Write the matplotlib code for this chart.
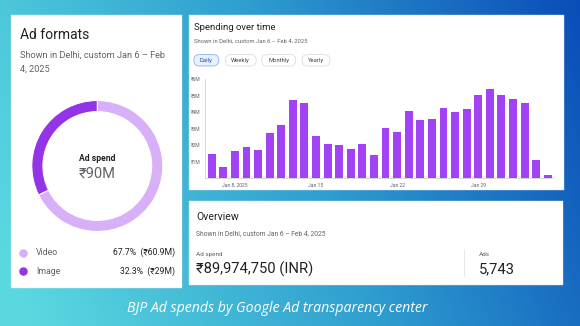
import numpy as np
import matplotlib.pyplot as plt
from matplotlib.patches import Rectangle, FancyBboxPatch
from matplotlib.colors import LinearSegmentedColormap

# daily spend, Jan 6 - Feb 4 2025, in millions of rupees
days = ['Jan 6', 'Jan 7', 'Jan 8', 'Jan 9', 'Jan 10', 'Jan 11', 'Jan 12', 'Jan 13',
        'Jan 14', 'Jan 15', 'Jan 16', 'Jan 17', 'Jan 18', 'Jan 19', 'Jan 20', 'Jan 21',
        'Jan 22', 'Jan 23', 'Jan 24', 'Jan 25', 'Jan 26', 'Jan 27', 'Jan 28', 'Jan 29',
        'Jan 30', 'Jan 31', 'Feb 1', 'Feb 2', 'Feb 3', 'Feb 4']
spend = [1.44, 0.68, 1.67, 1.91, 1.73, 2.76, 3.20, 4.72, 4.58, 2.58,
         2.05, 1.99, 1.77, 2.09, 1.38, 3.06, 2.80, 4.07, 3.53, 3.61,
         4.25, 4.03, 4.21, 5.06, 5.40, 5.02, 4.80, 4.56, 1.12, 0.21]
tick_days = ['Jan 8', 'Jan 15', 'Jan 22', 'Jan 29']
tick_labels = ['Jan 8, 2025', 'Jan 15', 'Jan 22', 'Jan 29']
y_ticks = [1, 2, 3, 4, 5, 6]

formats = ['Video', 'Image']
format_share = [67.7, 32.3]
format_amount = ['₹60.9M', '₹29M']
format_colors = ['#d7b0f8', '#9334e6']

buttons = ['Daily', 'Weekly', 'Monthly', 'Yearly']
subtitle = 'Shown in Delhi, custom Jan 6 – Feb 4, 2025'
total_spend = '₹89,974,750 (INR)'
total_ads = '5,743'

W, H = 580, 326
ui = ['Roboto', 'DejaVu Sans']
dark = '#202124'
grey = '#5f6368'

fig = plt.figure(figsize=(W / 100, H / 100), dpi=100)

# background + cards drawn in pixel coordinates
bg = fig.add_axes([0, 0, 1, 1])
bg.set_xlim(0, W)
bg.set_ylim(H, 0)
bg.axis('off')
xx, yy = np.meshgrid(np.linspace(0, 1, 300), np.linspace(0, 1, 170))
t = np.clip(xx * 0.85 + (1 - yy) * 0.2 - 0.05, 0, 1)
cmap = LinearSegmentedColormap.from_list('bgc', ['#5ad8e0', '#2f9fd0', '#0a4db8'])
bg.imshow(t, cmap=cmap, extent=[0, W, H, 0], aspect='auto', zorder=0)

for (x0, y0, x1, y1) in [(11, 15, 182, 288), (189, 15, 564, 190), (189, 201, 563, 285)]:
    bg.add_patch(Rectangle((x0, y0), x1 - x0, y1 - y0, facecolor='white',
                           edgecolor='#e6e6e6', lw=0.3, zorder=1))

# left card: ad formats
bg.text(20, 35, 'Ad formats', fontsize=10, color=dark, family=ui, va='center', zorder=2)
bg.text(20, 55, 'Shown in Delhi, custom Jan 6 – Feb', fontsize=6.6, color=grey,
        family=ui, va='center', zorder=2)
bg.text(20, 69, '4, 2025', fontsize=6.6, color=grey, family=ui, va='center', zorder=2)

for i, name in enumerate(formats):
    yc = 252.7 + i * 18.6
    bg.scatter([22.5], [yc], s=26, color=format_colors[i], zorder=2)
    bg.text(36, yc, name, fontsize=6.3, color=grey, family=ui, va='center', zorder=2)
    bg.text(175, yc, f'{format_share[i]}%  ({format_amount[i]})', fontsize=6.2,
            color=dark, family=ui, va='center', ha='right', zorder=2)

cx, cy, r = 97.3, 166, 65.5
dax = fig.add_axes([(cx - r) / W, 1 - (cy + r) / H, 2 * r / W, 2 * r / H])
dax.pie(format_share, colors=format_colors, startangle=90, counterclock=False,
        wedgeprops=dict(width=0.17, edgecolor='white', linewidth=0.8))
dax.set_xlim(-1, 1)
dax.set_ylim(-1, 1)
dax.text(0, 0.11, 'Ad spend', fontsize=6.2, color=dark, family=ui, weight='bold',
         ha='center', va='center')
dax.text(0, -0.12, '₹90M', fontsize=10.5, color=grey, family=ui, ha='center', va='center')

# spending over time card
bg.text(194, 27.5, 'Spending over time', fontsize=6.8, color=dark, family=ui,
        va='center', zorder=2)
bg.text(194, 41, subtitle, fontsize=4.2, color=grey, family=ui, va='center', zorder=2)
pill_x = [206.3, 240.7, 278.7, 316]
pill_w = [25, 31, 34, 28]
for i, b in enumerate(buttons):
    sel = i == 0
    bg.add_patch(FancyBboxPatch((pill_x[i] - pill_w[i] / 2, 54.5), pill_w[i], 11.5,
                                boxstyle='round,pad=0,rounding_size=5.7',
                                facecolor='#e8f0fe' if sel else 'white',
                                edgecolor='#8ab4f8' if sel else '#dadce0', lw=0.6, zorder=2))
    bg.text(pill_x[i], 60.3, b, fontsize=4.2, color='#174ea6' if sel else '#3c4043',
            family=ui, ha='center', va='center', zorder=3)

ax = fig.add_axes([205.3 / W, 1 - 178.2 / H, (553 - 205.3) / W, (178.2 - 79.3) / H])
x = np.arange(len(days))
ax.bar(x, spend, width=0.68, color='#a142f4')
ax.set_xlim(-0.55, 29.45)
ax.set_ylim(0, 6)
ax.set_yticks(y_ticks)
ax.set_yticklabels([f'₹{v}M' for v in y_ticks], family=ui)
ax.set_xticks([days.index(d) for d in tick_days])
ax.set_xticklabels(tick_labels, family=ui)
ax.tick_params(length=0, labelsize=3.6, colors=grey, pad=3.5)
for s in ['top', 'right']:
    ax.spines[s].set_visible(False)
for s in ['left', 'bottom']:
    ax.spines[s].set_color('#c8c8c8')
    ax.spines[s].set_linewidth(0.5)
ax.set_facecolor('none')

# overview card
bg.text(196.3, 216.7, 'Overview', fontsize=7.6, color=dark, family=ui, va='center', zorder=2)
bg.text(196.3, 233.3, subtitle, fontsize=4.9, color=grey, family=ui, va='center', zorder=2)
bg.text(196.3, 254.3, 'Ad spend', fontsize=4.6, color=grey, family=ui, va='center', zorder=2)
bg.text(196.3, 269, total_spend, fontsize=10.6, color=dark, family=ui, va='center', zorder=2)
bg.plot([464, 464], [249, 276], color='#e3e3e3', lw=0.6, zorder=2)
bg.text(479, 254.3, 'Ads', fontsize=4.6, color=grey, family=ui, va='center', zorder=2)
bg.text(479, 269, total_ads, fontsize=10.6, color=dark, family=ui, va='center', zorder=2)

# caption
bg.text(277.5, 308.5, 'BJP Ad spends by Google Ad transparency center', fontsize=10.2,
        color='white', family=['Open Sans', 'DejaVu Sans'], style='italic',
        ha='center', va='center', zorder=2)

fig.savefig('out.png', dpi=100)
